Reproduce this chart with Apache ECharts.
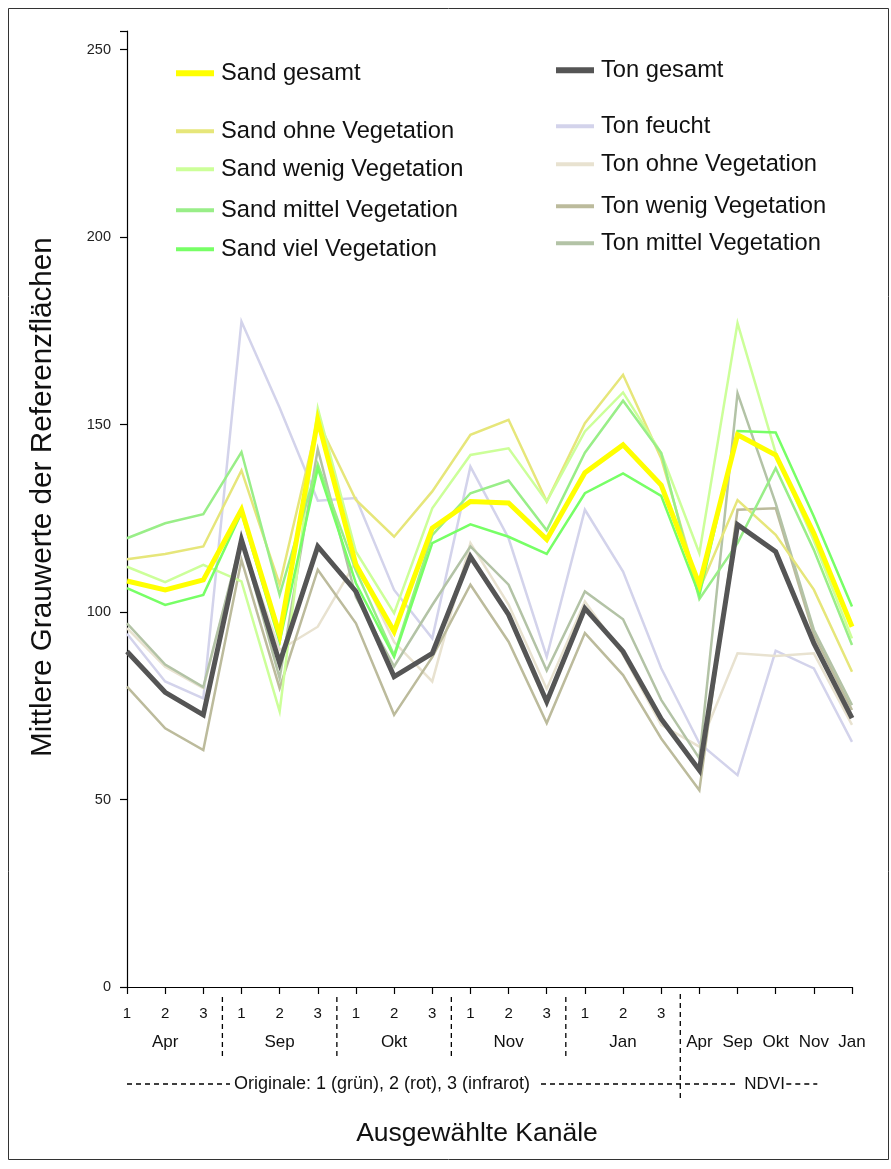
<!DOCTYPE html>
<html>
<head>
<meta charset="utf-8">
<script src="https://cdn.jsdelivr.net/npm/echarts@6/dist/echarts.min.js"></script>
<style>
html,body{margin:0;padding:0;background:#fff;}
#chart{width:891px;height:1169px;}
</style>
</head>
<body>
<div id="chart"></div>
<script>
// ---------- data ----------
const categories = ['Apr 1','Apr 2','Apr 3','Sep 1','Sep 2','Sep 3','Okt 1','Okt 2','Okt 3','Nov 1','Nov 2','Nov 3','Jan 1','Jan 2','Jan 3','NDVI Apr','NDVI Sep','NDVI Okt','NDVI Nov','NDVI Jan'];
const channelLabels = ['1','2','3','1','2','3','1','2','3','1','2','3','1','2','3','','','','',''];
const monthLabels = ['','Apr','','','Sep','','','Okt','','','Nov','','','Jan','','Apr','Sep','Okt','Nov','Jan'];
const yTicks = [0, 50, 100, 150, 200, 250];

const sandGesamt = [108.3,105.9,108.6,127.3,93.9,151.3,112.6,94.8,122.4,129.5,129.1,119.4,137.2,144.6,133.9,107.3,147.3,141.9,121.0,96.1];
const tonGesamt  = [89.5,78.6,72.6,119.3,86.4,117.5,105.5,82.8,89.0,114.8,99.3,76.1,101.0,89.5,71.5,57.8,123.3,116.1,91.7,71.7];
const sandOhne   = [114.1,115.5,117.5,137.8,107.3,151.0,129.9,120.1,132.2,147.3,151.3,129.5,150.4,163.3,141.0,106.0,129.9,120.6,106.0,84.1];
const sandWenig  = [112.1,108.0,112.6,108.2,73.5,154.4,116.1,99.7,127.7,141.9,143.7,129.5,148.2,158.6,142.4,115.7,177.1,142.5,119.0,93.0];
const sandMittel = [119.7,123.7,126.1,142.7,104.6,139.5,111.0,88.5,120.5,131.7,135.1,121.8,142.5,156.4,142.4,103.5,118.4,138.4,116.6,91.2];
const sandViel   = [106.4,101.9,104.6,126.5,92.1,138.4,107.7,88.1,118.4,123.4,120.1,115.5,131.7,137.0,131.0,104.5,148.3,147.9,125.5,101.5];
const tonFeucht  = [94.2,81.5,77.0,177.5,154.5,129.7,130.4,105.9,93.0,138.8,119.7,88.1,127.3,110.8,85.0,65.0,56.5,89.7,85.0,65.4];
const tonOhne    = [95.7,85.4,79.7,119.0,89.9,96.1,113.5,92.0,81.5,118.4,102.0,79.5,102.8,88.6,69.9,64.1,89.0,88.3,89.0,69.9];
const tonWenig   = [80.1,69.0,63.2,113.9,79.7,111.3,97.0,72.6,88.0,107.3,92.1,70.4,94.4,83.2,66.3,52.5,127.3,127.7,94.0,73.9];
const tonMittel  = [97.0,86.0,80.0,119.5,82.4,143.5,104.0,85.5,101.9,117.5,107.3,84.4,105.5,98.1,76.6,61.0,158.4,129.0,95.3,75.2];

const seriesDefs = [
  {name:'Ton feucht', data:tonFeucht, color:'#d3d3eb', w:2.5},
  {name:'Ton ohne Vegetation', data:tonOhne, color:'#e8e2d0', w:2.5},
  {name:'Ton wenig Vegetation', data:tonWenig, color:'#bcbb9c', w:2.5},
  {name:'Ton mittel Vegetation', data:tonMittel, color:'#b3c3a6', w:2.5},
  {name:'Sand ohne Vegetation', data:sandOhne, color:'#e6e67a', w:2.5},
  {name:'Sand wenig Vegetation', data:sandWenig, color:'#ccff99', w:2.5},
  {name:'Sand mittel Vegetation', data:sandMittel, color:'#99ee88', w:2.5},
  {name:'Sand viel Vegetation', data:sandViel, color:'#77ff66', w:2.5},
  {name:'Ton gesamt', data:tonGesamt, color:'#555555', w:5},
  {name:'Sand gesamt', data:sandGesamt, color:'#ffff00', w:5}
];

// legend layout: [name, left, centerY, iconHeight]
const legendLayout = [
  ['Sand gesamt',176,73,6],
  ['Sand ohne Vegetation',176,131,4],
  ['Sand wenig Vegetation',176,169,4],
  ['Sand mittel Vegetation',176,210,4],
  ['Sand viel Vegetation',176,249,4],
  ['Ton gesamt',556,70,6],
  ['Ton feucht',556,126,4],
  ['Ton ohne Vegetation',556,164,4],
  ['Ton wenig Vegetation',556,206,4],
  ['Ton mittel Vegetation',556,243,4]
];

const FONT = '"Liberation Sans", Arial, sans-serif';
const LEG_FS = 23.7;

const chart = echarts.init(document.getElementById('chart'), null, {renderer:'canvas'});

const option = {
  animation: false,
  backgroundColor: '#fff',
  grid: {left:127, right:39, top:31, bottom:182, containLabel:false},
  legend: legendLayout.map(l => ({
    data:[l[0]], left:l[1], top:l[2]-LEG_FS/2, padding:0, itemGap:0,
    itemWidth:38, itemHeight:l[3], icon:'rect', selectedMode:false,
    textStyle:{fontSize:LEG_FS, fontFamily:FONT, color:'#111', padding:[2,0,0,2]}
  })),
  xAxis: [
    {
      type:'category', data:categories, boundaryGap:false,
      axisLine:{show:true, lineStyle:{color:'#000', width:1.2}},
      axisTick:{show:true, interval:0, length:7, lineStyle:{color:'#000', width:1.2}},
      axisLabel:{interval:0, margin:19, fontSize:15, fontFamily:FONT, color:'#111',
        formatter:(v, i) => channelLabels[i]},
      splitLine:{show:false},
      name:'Ausgewählte Kanäle', nameLocation:'middle', nameGap:133,
      nameTextStyle:{fontSize:26.5, fontFamily:FONT, color:'#111', padding:[0,25,0,0]}
    },
    {
      type:'category', data:categories, boundaryGap:false, position:'bottom',
      axisLine:{show:false}, axisTick:{show:false}, splitLine:{show:false},
      axisLabel:{interval:0, margin:47, fontSize:17, fontFamily:FONT, color:'#111',
        formatter:(v, i) => monthLabels[i]}
    }
  ],
  yAxis: {
    type:'value', min:0, max:255, interval:50,
    axisLine:{show:true, lineStyle:{color:'#000', width:1.2}},
    axisTick:{show:true, length:7, lineStyle:{color:'#000', width:1.2}},
    axisLabel:{fontSize:14.5, fontFamily:FONT, color:'#222', margin:16,
      formatter: v => (yTicks.indexOf(v) >= 0 ? String(v) : '')},
    splitLine:{show:false},
    name:'Mittlere Grauwerte der Referenzflächen', nameLocation:'middle', nameGap:69,
    nameRotate:90,
    nameTextStyle:{fontSize:29.7, fontFamily:FONT, color:'#111', padding:[0,0,0,24]}
  },
  series: seriesDefs.map(s => ({
    name:s.name, type:'line', data:s.data, symbol:'none', xAxisIndex:0,
    lineStyle:{color:s.color, width:s.w, join:'miter'},
    itemStyle:{color:s.color},
    emphasis:{disabled:true}
  }))
};
chart.setOption(option);

// ---------- annotations derived from the axis ----------
const px = i => chart.convertToPixel({xAxisIndex:0}, categories[i]);
const y0 = chart.convertToPixel({yAxisIndex:0}, 0);
const dash = {stroke:'#000', lineWidth:1.3, lineDash:[5,4]};
const graphics = [];
// frame
graphics.push({type:'rect', shape:{x:8.5, y:8.5, width:880, height:1151}, style:{fill:'none', stroke:'#333', lineWidth:1}, silent:true});
// group separators
[[2,3],[5,6],[8,9],[11,12]].forEach(p => {
  const x = (px(p[0]) + px(p[1]))/2;
  graphics.push({type:'line', shape:{x1:x, y1:y0+10, x2:x, y2:y0+71}, style:dash, silent:true});
});
const xN = (px(14) + px(15))/2;
graphics.push({type:'line', shape:{x1:xN, y1:y0+7, x2:xN, y2:y0+113}, style:dash, silent:true});
// bottom annotation row
const yr = y0 + 97;
graphics.push({type:'line', shape:{x1:px(0), y1:yr, x2:px(0)+103, y2:yr}, style:dash, silent:true});
graphics.push({type:'text', x:px(0)+107, y:yr, style:{text:'Originale: 1 (grün), 2 (rot), 3 (infrarot)', fontSize:18, fontFamily:FONT, fill:'#111', verticalAlign:'middle', align:'left'}, silent:true});
graphics.push({type:'line', shape:{x1:px(0)+414, y1:yr, x2:xN+57, y2:yr}, style:dash, silent:true});
graphics.push({type:'text', x:xN+64, y:yr, style:{text:'NDVI', fontSize:17, fontFamily:FONT, fill:'#111', verticalAlign:'middle', align:'left'}, silent:true});
graphics.push({type:'line', shape:{x1:xN+106, y1:yr, x2:xN+137, y2:yr}, style:dash, silent:true});
chart.setOption({graphic: graphics});
</script>
</body>
</html>
